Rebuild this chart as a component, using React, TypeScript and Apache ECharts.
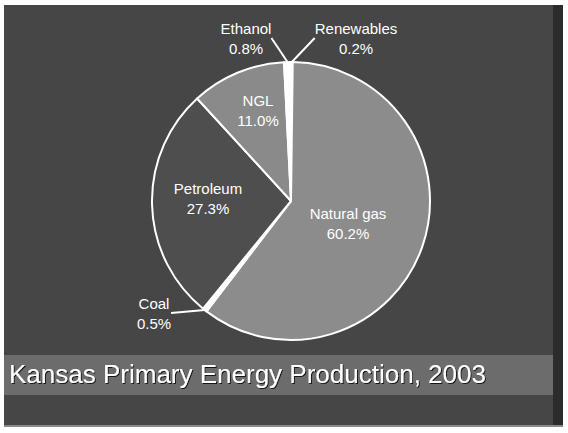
import React, { useEffect, useRef } from "react";
import * as echarts from "echarts";

const categories = ["Renewables", "Natural gas", "Coal", "Petroleum", "NGL", "Ethanol"];
const shares = [0.2, 60.2, 0.5, 27.3, 11.0, 0.8];
const sliceColors = ["#ffffff", "#8c8c8c", "#ffffff", "#4e4e4e", "#8a8a8a", "#ffffff"];
const outsideLabel = [true, false, true, false, false, true];
const titleText = "Kansas Primary Energy Production, 2003";

const CX = 291;
const CY = 201;
const R = 139;
// label offsets relative to the pie centre (layout, not data)
const labelOffsets: [number, number][] = [
  [65, -163],
  [57, 22],
  [-137, 112],
  [-83, -3],
  [-33, -91],
  [-45, -163],
];

export default function App() {
  const ref = useRef<HTMLDivElement>(null);
  useEffect(() => {
    if (!ref.current) return;
    const chart = echarts.init(ref.current, undefined, { renderer: "svg" });
    const font = "'Liberation Sans', Arial, Helvetica, sans-serif";
    chart.setOption({
      animation: false,
      backgroundColor: "#ffffff",
      graphic: [
        { type: "rect", z: -10, shape: { x: 4, y: 5, width: 559, height: 422 }, style: { fill: "#464646" } },
        { type: "rect", z: -9, shape: { x: 553, y: 5, width: 10, height: 422 }, style: { fill: "#2c2c2c" } },
        { type: "rect", z: -8, shape: { x: 4, y: 355, width: 549, height: 40 }, style: { fill: "#6c6c6c" } },
        { type: "rect", z: -8, shape: { x: 4, y: 425, width: 559, height: 2 }, style: { fill: "#8a8a8a" } },
      ],
      title: {
        text: titleText,
        left: 9,
        top: 361,
        padding: 0,
        textStyle: {
          color: "#ffffff",
          fontSize: 26,
          fontWeight: "normal",
          fontFamily: font,
          textShadowColor: "rgba(0,0,0,0.8)",
          textShadowBlur: 1,
          textShadowOffsetX: 1,
          textShadowOffsetY: 1,
        },
      },
      series: [
        {
          type: "pie",
          center: [CX, CY],
          radius: R,
          startAngle: 90,
          clockwise: true,
          silent: true,
          avoidLabelOverlap: false,
          emphasis: { disabled: true },
          itemStyle: { borderColor: "#ffffff", borderWidth: 2 },
          label: {
            show: true,
            position: "outside",
            color: "#ffffff",
            fontSize: 15,
            lineHeight: 20,
            fontFamily: font,
            align: "center",
            formatter: (p: any) => `${p.name}\n${Number(p.value).toFixed(1)}%`,
          },
          labelLine: {
            show: true,
            length: 15,
            length2: 0,
            lineStyle: { color: "#ffffff", width: 2 },
          },
          labelLayout: (params: any) => {
            const o = labelOffsets[params.dataIndex];
            return { x: CX + o[0], y: CY + o[1], align: "center", verticalAlign: "middle" };
          },
          data: categories.map((name, i) => ({
            name,
            value: shares[i],
            itemStyle: { color: sliceColors[i] },
            labelLine: { show: outsideLabel[i] },
          })),
        },
      ],
    });
    return () => chart.dispose();
  }, []);
  return (
    <div
      ref={ref}
      style={{ position: "fixed", left: 0, top: 0, width: 568, height: 433 }}
    />
  );
}
